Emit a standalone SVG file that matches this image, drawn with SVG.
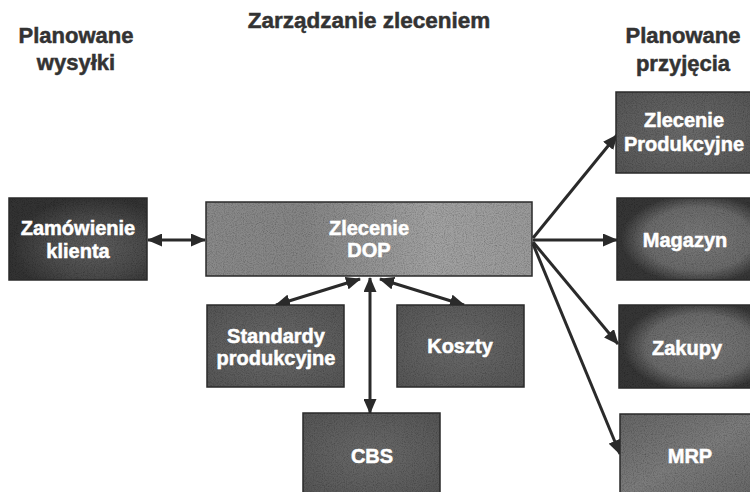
<svg xmlns="http://www.w3.org/2000/svg" width="750" height="492" viewBox="0 0 750 492">
  <style>
    .hdr { font-family: "Liberation Sans", Arial, sans-serif; font-weight: bold; font-size: 22px; fill: #333; stroke: #333; stroke-width: 0.5; text-anchor: middle; }
    .lbl { font-family: "Liberation Sans", Arial, sans-serif; font-weight: bold; font-size: 20px; fill: #fff; stroke: #fff; stroke-width: 0.5; text-anchor: middle; }
    .box { stroke: #2a2a2a; stroke-width: 1.5; fill: none; }
    .con { stroke: #2a2a2a; stroke-width: 3; fill: none; }
    .fill { filter: url(#grain); }
  </style>
  <defs>
    <filter id="grain" x="0" y="0" width="1" height="1">
      <feTurbulence type="fractalNoise" baseFrequency="0.9" numOctaves="2" seed="7" result="t"/>
      <feColorMatrix in="t" type="saturate" values="0" result="g"/>
      <feComponentTransfer in="g" result="g2">
        <feFuncR type="linear" slope="1.2" intercept="0.3"/>
        <feFuncG type="linear" slope="1.2" intercept="0.3"/>
        <feFuncB type="linear" slope="1.2" intercept="0.3"/>
        <feFuncA type="linear" slope="0" intercept="1"/>
      </feComponentTransfer>
      <feBlend in="SourceGraphic" in2="g2" mode="multiply" result="b"/>
      <feComposite in="b" in2="SourceGraphic" operator="in"/>
    </filter>
    <radialGradient id="gZam" cx="0.62" cy="0.6" r="0.6">
      <stop offset="0" stop-color="#5e5e5e"/>
      <stop offset="0.6" stop-color="#4a4a4a"/>
      <stop offset="1" stop-color="#333"/>
    </radialGradient>
    <linearGradient id="gDop" x1="0" y1="0" x2="1" y2="0">
      <stop offset="0" stop-color="#8a8a8a"/>
      <stop offset="0.3" stop-color="#858585"/>
      <stop offset="0.7" stop-color="#a2a2a2"/>
      <stop offset="1" stop-color="#9a9a9a"/>
    </linearGradient>
    <radialGradient id="gMid" cx="0.5" cy="0.5" r="0.7">
      <stop offset="0" stop-color="#6a6a6a"/>
      <stop offset="1" stop-color="#555"/>
    </radialGradient>
    <radialGradient id="gBlob" cx="0.58" cy="0.5" r="0.55">
      <stop offset="0" stop-color="#7a7a7a"/>
      <stop offset="0.7" stop-color="#6a6a6a"/>
      <stop offset="1" stop-color="#363636"/>
    </radialGradient>
    <linearGradient id="gMrp" x1="0" y1="0" x2="1" y2="1">
      <stop offset="0" stop-color="#666"/>
      <stop offset="0.5" stop-color="#7c7c7c"/>
      <stop offset="1" stop-color="#666"/>
    </linearGradient>
    <marker id="ah" viewBox="0 0 15 13" refX="14" refY="6.5" markerWidth="15" markerHeight="13" markerUnits="userSpaceOnUse" orient="auto-start-reverse">
      <path d="M0,0 L15,6.5 L0,13 Z" fill="#2a2a2a"/>
    </marker>
  </defs>

  <rect width="750" height="492" fill="#fff"/>

  <g id="headers">
    <text class="hdr" x="76" y="43">Planowane</text>
    <text class="hdr" x="76" y="70">wysyłki</text>
    <text class="hdr" x="369" y="28" style="font-size:22.5px">Zarządzanie zleceniem</text>
    <text class="hdr" x="683" y="43">Planowane</text>
    <text class="hdr" x="683" y="71">przyjęcia</text>
  </g>

  <g id="connectors">
    <line class="con" x1="148" y1="240" x2="205" y2="240" marker-start="url(#ah)" marker-end="url(#ah)"/>
    <line class="con" x1="360" y1="279" x2="276" y2="305" marker-start="url(#ah)" marker-end="url(#ah)"/>
    <line class="con" x1="380" y1="279" x2="464" y2="305" marker-start="url(#ah)" marker-end="url(#ah)"/>
    <line class="con" x1="370" y1="278" x2="370" y2="413" marker-start="url(#ah)" marker-end="url(#ah)"/>
    <line class="con" x1="533" y1="238" x2="617" y2="135" marker-end="url(#ah)"/>
    <line class="con" x1="533" y1="240" x2="617" y2="240" marker-end="url(#ah)"/>
    <line class="con" x1="533" y1="242" x2="618" y2="344" marker-end="url(#ah)"/>
    <line class="con" x1="533" y1="244" x2="620" y2="454" marker-end="url(#ah)"/>
  </g>

  <g id="zamowienie">
    <rect class="fill" x="9" y="198" width="138" height="82" fill="url(#gZam)"/>
    <rect class="box" x="9" y="198" width="138" height="82"/>
    <text class="lbl" x="78" y="235">Zamówienie</text>
    <text class="lbl" x="78" y="258">klienta</text>
  </g>

  <g id="dop">
    <rect class="fill" x="206" y="202" width="326" height="74" fill="url(#gDop)"/>
    <rect class="box" x="206" y="202" width="326" height="74"/>
    <text class="lbl" x="369" y="235">Zlecenie</text>
    <text class="lbl" x="369" y="257">DOP</text>
  </g>

  <g id="standardy">
    <rect class="fill" x="207" y="305" width="137" height="82" fill="url(#gMid)"/>
    <rect class="box" x="207" y="305" width="137" height="82"/>
    <text class="lbl" x="276" y="343">Standardy</text>
    <text class="lbl" x="276" y="365">produkcyjne</text>
  </g>

  <g id="koszty">
    <rect class="fill" x="397" y="305" width="127" height="82" fill="url(#gMid)"/>
    <rect class="box" x="397" y="305" width="127" height="82"/>
    <text class="lbl" x="460" y="353">Koszty</text>
  </g>

  <g id="cbs">
    <rect class="fill" x="303" y="413" width="137" height="82" fill="url(#gMid)"/>
    <rect class="box" x="303" y="413" width="137" height="82"/>
    <text class="lbl" x="372" y="463">CBS</text>
  </g>

  <g id="zlecenie-produkcyjne">
    <rect class="fill" x="616" y="92" width="140" height="81" fill="url(#gMid)"/>
    <rect class="box" x="616" y="92" width="140" height="81"/>
    <text class="lbl" x="684" y="127">Zlecenie</text>
    <text class="lbl" x="684" y="151">Produkcyjne</text>
  </g>

  <g id="magazyn">
    <rect class="fill" x="617" y="198" width="140" height="82" fill="url(#gBlob)"/>
    <rect class="box" x="617" y="198" width="140" height="82"/>
    <text class="lbl" x="685" y="247">Magazyn</text>
  </g>

  <g id="zakupy">
    <rect class="fill" x="619" y="305" width="140" height="83" fill="url(#gBlob)"/>
    <rect class="box" x="619" y="305" width="140" height="83"/>
    <text class="lbl" x="687" y="355">Zakupy</text>
  </g>

  <g id="mrp">
    <rect class="fill" x="620" y="414" width="140" height="82" fill="url(#gMrp)"/>
    <rect class="box" x="620" y="414" width="140" height="82"/>
    <text class="lbl" x="690" y="463">MRP</text>
  </g>
</svg>
